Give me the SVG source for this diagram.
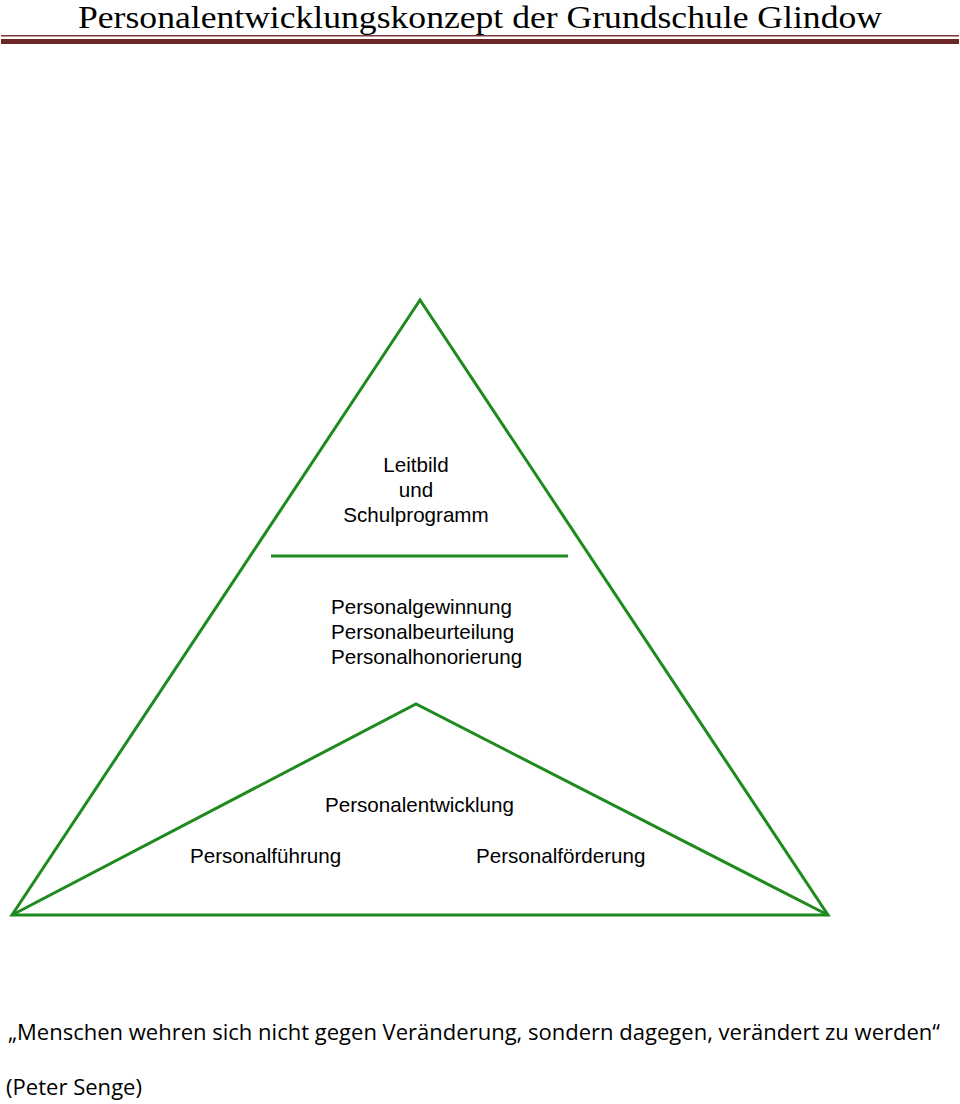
<svg xmlns="http://www.w3.org/2000/svg" width="960" height="1104" viewBox="0 0 960 1104">
<style>
.t{font-family:"Liberation Sans",Arial,sans-serif;font-size:20.6px;fill:#000}
.g{fill:none;stroke:#1f8a1f;stroke-width:3;stroke-linejoin:miter}
.q{font-family:"Open Sans","Liberation Sans",sans-serif;font-size:22px;fill:#000}
</style>
<rect width="960" height="1104" fill="#fff"/>
<g id="header">
<text x="78" y="28" font-family="Liberation Serif,serif" font-size="31" textLength="804" lengthAdjust="spacingAndGlyphs">Personalentwicklungskonzept der Grundschule Glindow</text>
<rect x="1" y="35" width="958" height="1.5" fill="#7a3a3a"/>
<rect x="1" y="39" width="958" height="5" fill="#6b2626"/>
</g>
<g id="connectors">
<polygon class="g" points="420,300 12,915 828,915"/>
<line class="g" x1="271" y1="556" x2="568" y2="556"/>
<polyline class="g" points="12,915 416,704 828,915"/>
</g>
<g id="top">
<text class="t" x="416" y="472" text-anchor="middle">Leitbild</text>
<text class="t" x="416" y="497" text-anchor="middle">und</text>
<text class="t" x="416" y="522" text-anchor="middle">Schulprogramm</text>
</g>
<g id="middle">
<text class="t" x="331" y="614">Personalgewinnung</text>
<text class="t" x="331" y="639">Personalbeurteilung</text>
<text class="t" x="331" y="664">Personalhonorierung</text>
</g>
<g id="bottom">
<text class="t" x="325" y="812">Personalentwicklung</text>
<text class="t" x="190" y="863">Personalführung</text>
<text class="t" x="476" y="863">Personalförderung</text>
</g>
<g id="quote">
<text class="q" x="8" y="1040" textLength="932" lengthAdjust="spacingAndGlyphs">„Menschen wehren sich nicht gegen Veränderung, sondern dagegen, verändert zu werden“</text>
<text class="q" x="6" y="1095" textLength="136" lengthAdjust="spacingAndGlyphs">(Peter Senge)</text>
</g>
</svg>
